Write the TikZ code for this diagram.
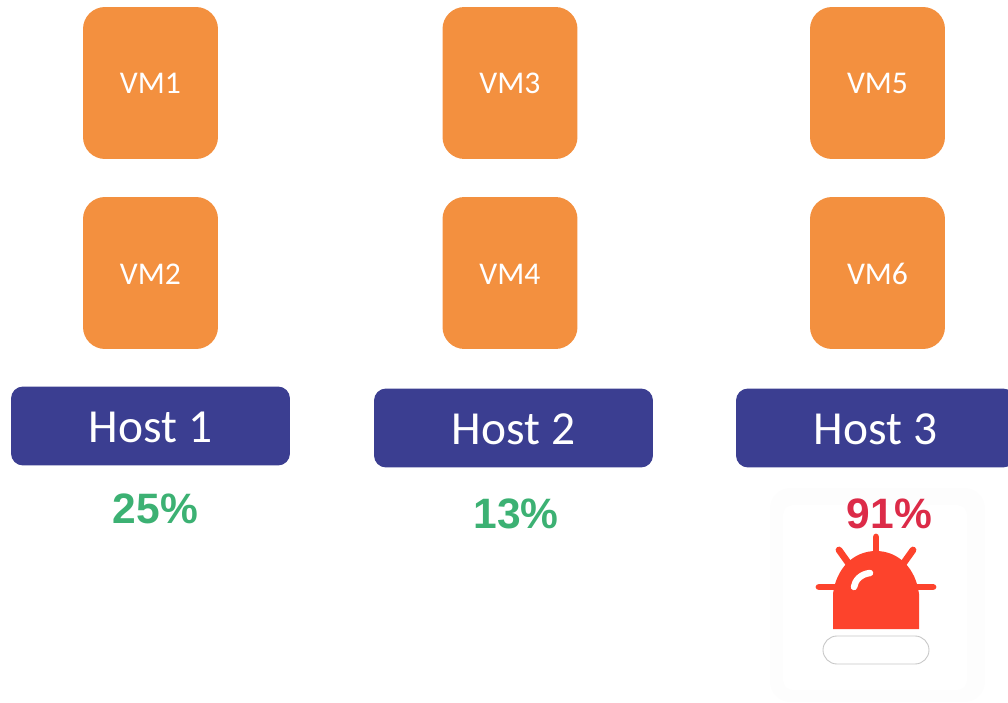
\documentclass[tikz,border=0pt]{standalone}
\usepackage{fontspec}
\setmainfont{Carlito}
\newfontfamily\pctfont{Liberation Sans}
\usetikzlibrary{positioning}
\definecolor{vmorange}{HTML}{F3903F}
\definecolor{hostblue}{HTML}{3B3E91}
\definecolor{okgreen}{HTML}{3CB173}
\definecolor{badred}{HTML}{DC2B48}
\definecolor{alarmred}{HTML}{FD432C}
\tikzset{
    vm/.style={fill=vmorange, rounded corners=0.44cm, minimum width=2.7cm, minimum height=3.04cm,
        inner sep=0pt, text=white, text height=0.44cm, text depth=0cm, font=\fontsize{18}{20}\selectfont},
    host/.style={fill=hostblue, rounded corners=0.24cm, minimum width=5.58cm, minimum height=1.58cm,
        inner sep=0pt, text=white, text height=0.64cm, text depth=0cm, font=\fontsize{27}{32}\selectfont},
    pct/.style={font=\pctfont\bfseries\fontsize{24.2}{28}\selectfont, inner sep=0pt},
    ray/.style={alarmred, line width=0.135cm, line cap=round}
}
\begin{document}
\begin{tikzpicture}[x=0.02cm,y=-0.02cm]
    \useasboundingbox (0,0) rectangle (1008,703);
    % VMs
    \node[vm] (vm1) at (150.5,83) {VM1};
    \node[vm] (vm2) at (150.5,273) {VM2};
    \node[vm] (vm3) at (510,83) {VM3};
    \node[vm] (vm4) at (510,273) {VM4};
    \node[vm] (vm5) at (877.5,83) {VM5};
    \node[vm] (vm6) at (877.5,273) {VM6};
    % hosts
    \node[host] (host1) at (150.5,426) {Host 1};
    \node[host] (host2) at (513.5,428) {Host 2};
    \node[host] (host3) at (875.5,428) {Host 3};
    % alarm
    \fill[black!0.6, rounded corners=0.4cm] (770,488) rectangle (985,702);
    \fill[white, rounded corners=0.2cm] (783,505) rectangle (967,690);
    \draw[ray] (876,537) -- (876,555);
    \draw[ray] (839,550) -- (849,564);
    \draw[ray] (913,550) -- (903,564);
    \draw[ray] (819,587) -- (836,587);
    \draw[ray] (933,587) -- (916,587);
    \fill[alarmred] (833,629) -- (833,594) .. controls (836,569) and (853,551) .. (876,551)
        .. controls (899,551) and (916,569) .. (919,594) -- (919,629) -- cycle;
    \draw[white, line width=0.13cm, line cap=round] (854,587) .. controls (855,580) and (861,574) .. (870,573);
    \draw[black!22, line width=0.5pt, fill=white, rounded corners=0.28cm] (823,636) rectangle (929,664);
    % load
    \node[pct, text=okgreen] (load1) at (155.5,509) {25\%};
    \node[pct, text=okgreen] (load2) at (516,514) {13\%};
    \node[pct, text=badred] (load3) at (889.5,514) {91\%};
\end{tikzpicture}
\end{document}
